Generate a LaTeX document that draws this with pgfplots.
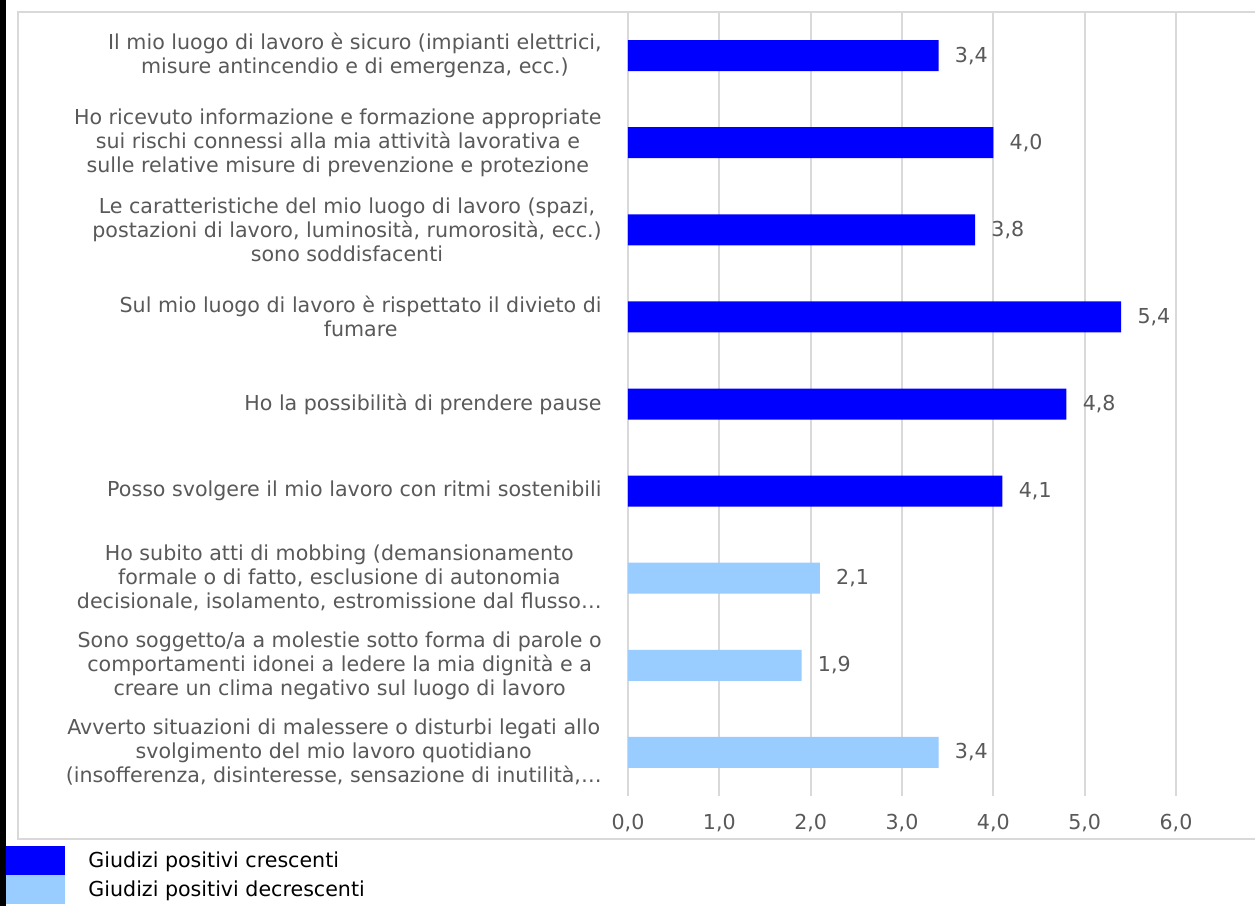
\documentclass[border=0pt]{standalone}
\usepackage{fontspec}
\setmainfont{DejaVu Sans}
\usepackage{pgfplots}
\pgfplotsset{compat=1.18}
\definecolor{darkbar}{RGB}{0,0,255}
\definecolor{lightbar}{RGB}{153,204,255}
\definecolor{txtgrey}{RGB}{89,89,89}
\definecolor{gridgrey}{RGB}{217,217,217}
\newcommand{\chartfont}{\fontsize{10.3}{12}\selectfont}
\begin{document}
\begin{tikzpicture}
\useasboundingbox (0,0) rectangle (627.5pt,453pt);
\fill[white] (0,0) rectangle (627.5pt,453pt);
\fill[black] (0,0) rectangle (3pt,453pt);
\draw[gridgrey, line width=1pt] (9pt,33.5pt) rectangle (640pt,447pt);
\begin{axis}[
    at={(314pt,55pt)}, anchor=south west,
    scale only axis,
    width=274pt, height=392pt,
    xbar, bar width=15.5pt, bar shift=0pt,
    xmin=0, xmax=6,
    ymin=-0.5, ymax=8.5,
    y dir=reverse,
    xtick={0,1,2,3,4,5,6},
    ytick={0,1,2,3,4,5,6,7,8},
    yticklabels={
        {Il mio luogo di lavoro è sicuro (impianti elettrici,\\misure antincendio e di emergenza, ecc.)},
        {Ho ricevuto informazione e formazione appropriate\\sui rischi connessi alla mia attività lavorativa e\\sulle relative misure di prevenzione e protezione},
        {Le caratteristiche del mio luogo di lavoro (spazi,\\postazioni di lavoro, luminosità, rumorosità, ecc.)\\sono soddisfacenti},
        {Sul mio luogo di lavoro è rispettato il divieto di\\fumare},
        {Ho la possibilità di prendere pause},
        {Posso svolgere il mio lavoro con ritmi sostenibili},
        {Ho subito atti di mobbing (demansionamento\\formale o di fatto, esclusione di autonomia\\decisionale, isolamento, estromissione dal flusso…},
        {Sono soggetto/a a molestie sotto forma di parole o\\comportamenti idonei a ledere la mia dignità e a\\creare un clima negativo sul luogo di lavoro},
        {Avverto situazioni di malessere o disturbi legati allo\\svolgimento del mio lavoro quotidiano\\(insofferenza, disinteresse, sensazione di inutilità,…},
    },
    yticklabel style={align=center, font=\chartfont, text=txtgrey, inner sep=0pt, anchor=east, xshift=-13pt},
    xticklabel style={font=\chartfont, text=txtgrey, inner sep=0pt, anchor=north, yshift=-9pt},
    /pgf/number format/.cd, fixed, fixed zerofill, precision=1, use comma, assume math mode=true,
    /pgfplots/.cd,
    axis line style={draw=none},
    major tick length=0pt,
    xmajorgrids,
    grid style={gridgrey, line width=1pt},
    point meta=x,
    nodes near coords={\pgfmathprintnumber[fixed,fixed zerofill,precision=1,use comma,assume math mode=true]{\pgfplotspointmeta}},
    every node near coord/.append style={font=\chartfont, text=txtgrey, anchor=west, inner sep=0pt, xshift=8pt},
    legend image code/.code={\fill[#1] (0pt,-7.25pt) rectangle (29.5pt,7.25pt); \path (41pt,0pt);},
    legend style={at={(-1.135,-0.0638)}, anchor=north west, draw=none, fill=none,
        inner sep=0pt, row sep=0pt, column sep=0pt, font=\chartfont,
        nodes={inner sep=0pt, anchor=west}},
    legend cell align=left,
]
\addplot[fill=darkbar, draw=none] coordinates {(3.4,0) (4.0,1) (3.8,2) (5.4,3) (4.8,4) (4.1,5)};
\addplot[fill=lightbar, draw=none] coordinates {(2.1,6) (1.9,7) (3.4,8)};
\legend{Giudizi positivi crescenti, Giudizi positivi decrescenti}
\end{axis}
\end{tikzpicture}
\end{document}
